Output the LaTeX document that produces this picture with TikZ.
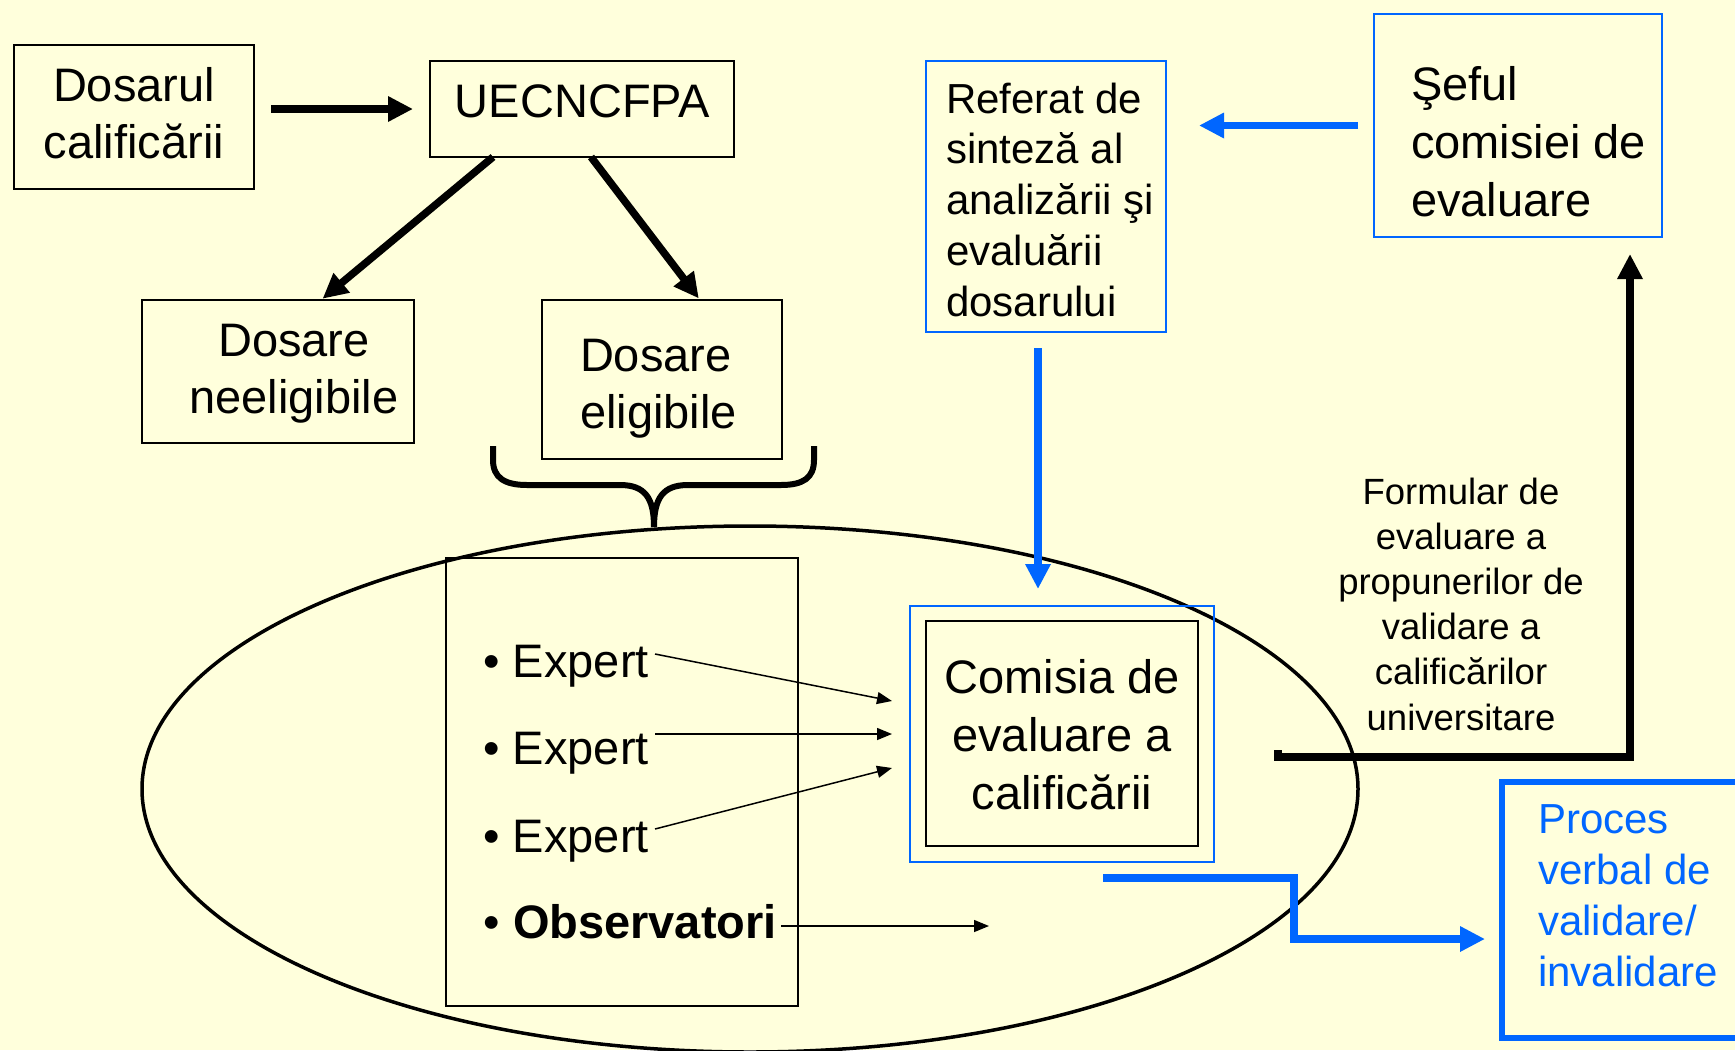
\documentclass[tikz,border=0pt]{standalone}
\usepackage{fontspec}
\setmainfont{Liberation Sans}
\usetikzlibrary{arrows.meta}
\definecolor{bg}{HTML}{FFFFDC}
\definecolor{pblue}{HTML}{0066FF}
\begin{document}
\begin{tikzpicture}[x=1pt,y=-1pt,
  box/.style={draw=black, line width=2.2pt, inner sep=0pt, outer sep=0pt},
  bbox/.style={draw=pblue, line width=2.2pt, inner sep=0pt, outer sep=0pt},
  txt/.style={inner sep=0pt, outer sep=0pt, font=\fontsize{47}{57}\selectfont},
  txtr/.style={inner sep=0pt, outer sep=0pt, font=\fontsize{42}{50.75}\selectfont},
  txtf/.style={inner sep=0pt, outer sep=0pt, font=\fontsize{36.5}{45.2}\selectfont},
  txtp/.style={inner sep=0pt, outer sep=0pt, text=pblue, font=\fontsize{42}{51.3}\selectfont},
  txtc/.style={inner sep=0pt, outer sep=0pt, font=\fontsize{47}{58}\selectfont},
  bigarrow/.style={draw=black, line width=7.5pt, -{Triangle[length=25pt,width=24pt]}},
  bluearrow/.style={draw=pblue, line width=7.5pt, -{Triangle[length=25pt,width=24pt]}},
  thinarrow/.style={draw=black, line width=1.5pt, -{Triangle[length=15pt,width=12pt]}}
]
\fill[bg] (0,0) rectangle (1735,1050);
\useasboundingbox (0,0) rectangle (1735,1050);

% ellipse
\draw[line width=3.5pt] (750,789) ellipse [x radius=608, y radius=263];

% boxes
\node[box, minimum width=240pt, minimum height=144pt] (dosarul) at (134,117) {};
\node[box, minimum width=304pt, minimum height=96pt] (uec) at (582,109) {};
\node[box, minimum width=272pt, minimum height=143pt] (neel) at (278,371.5) {};
\node[box, minimum width=240pt, minimum height=159pt] (elig) at (662,379.5) {};
\node[bbox, minimum width=240pt, minimum height=271pt] (referat) at (1046,196.5) {};
\node[bbox, minimum width=288pt, minimum height=223pt] (seful) at (1518,125.5) {};
\node[box, minimum width=352pt, minimum height=448pt] (experts) at (622,782) {};
\node[bbox, line width=2pt, minimum width=304pt, minimum height=256pt] (comisiaout) at (1062,734) {};
\node[box, minimum width=272pt, minimum height=225pt] (comisia) at (1062,733.5) {};
\node[bbox, line width=5.5pt, minimum width=258pt, minimum height=256pt] (proces) at (1631,910) {};

% texts
\node[txt, anchor=base] (dosarul-t) at (134,101) {\begin{tabular}[t]{@{}c@{}}Dosarul\\calificării\end{tabular}};
\node[txt, anchor=base] (uec-t) at (582.5,117) {UECNCFPA};
\node[txt, anchor=base] (neel-t) at (294,356) {\begin{tabular}[t]{@{}c@{}}Dosare\\neeligibile\end{tabular}};
\node[txt, anchor=base west] (elig-t) at (580,371) {\begin{tabular}[t]{@{}l@{}}Dosare\\eligibile\end{tabular}};
\node[txtr, anchor=base west] (referat-t) at (946,113) {\begin{tabular}[t]{@{}l@{}}Referat de\\sinteză al\\analizării şi\\evaluării\\dosarului\end{tabular}};
\node[txtc, anchor=base west] (seful-t) at (1411,100) {\begin{tabular}[t]{@{}l@{}}Şeful\\comisiei de\\evaluare\end{tabular}};
\node[txtc, anchor=base] (comisia-t) at (1062,693) {\begin{tabular}[t]{@{}c@{}}Comisia de\\evaluare a\\calificării\end{tabular}};
\node[txtf, anchor=base] (formular-t) at (1461,504) {\begin{tabular}[t]{@{}c@{}}Formular de\\evaluare a\\propunerilor de\\validare a\\calificărilor\\universitare\end{tabular}};
\node[txtp, anchor=base west] (proces-t) at (1538,833) {\begin{tabular}[t]{@{}l@{}}Proces\\verbal de\\validare/\\invalidare\end{tabular}};

\node[txt, anchor=base west] (e1) at (483.5,677) {• Expert};
\node[txt, anchor=base west] (e2) at (483.5,764) {• Expert};
\node[txt, anchor=base west] (e3) at (483.5,852) {• Expert};
\node[txt, anchor=base west] (obs) at (483.5,938) {• \textbf{Observatori}};

% brace
\draw[line width=6pt] (493,446) -- (493,460) .. controls (493,478) and (505,485) .. (527,485)
  -- (620,485) .. controls (645,485) and (654,498) .. (654,527)
  .. controls (654,498) and (663,485) .. (688,485) -- (781,485)
  .. controls (803,485) and (814,478) .. (814,460) -- (814,446);

% coordinates for free ends
\coordinate (e1s) at (655,654);
\coordinate (e2s) at (655,734);
\coordinate (e3s) at (655,829);
\coordinate (obss) at (781,926);
\coordinate (e1e) at (892,701);
\coordinate (e2e) at (892,734);
\coordinate (e3e) at (892,768);
\coordinate (obse) at (989,926);
\coordinate (fstart) at (1278,750);
\coordinate (pstart) at (1103,878);
\coordinate (pbend) at (1294,878);

% connectors
\draw[bigarrow, shorten <=17pt, shorten >=17pt] (dosarul.east |- uec.west) -- (uec.west);
\draw[bigarrow, shorten >=2pt] ([xshift=63pt]uec.south west) -- ([xshift=179pt]neel.north west);
\draw[bigarrow, shorten >=2pt] ([xshift=161pt]uec.south west) -- ([xshift=158pt]elig.north west);
\draw[bluearrow, shorten <=16pt, shorten >=33pt] (seful.west) -- (seful.west -| referat.east);
\draw[bluearrow, shorten <=16pt, shorten >=17pt] ([xshift=-8pt]referat.south) -- ([xshift=-8pt]referat.south |- comisiaout.north);
\draw[bigarrow, shorten >=17pt] (fstart) -- ++(0,7) -| ([xshift=-32pt]seful.south east);
\draw[bluearrow, shorten >=17pt] (pstart) -- (pbend) |- ([yshift=-29pt]proces.west);

\draw[thinarrow] (e1s) -- (e1e);
\draw[thinarrow] (e2s) -- (e2e);
\draw[thinarrow] (e3s) -- (e3e);
\draw[thinarrow] (obss) -- (obse);
\end{tikzpicture}
\end{document}
